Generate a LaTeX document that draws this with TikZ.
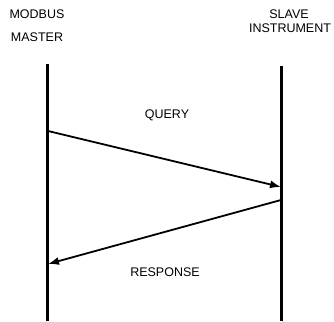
\documentclass[tikz,border=0pt]{standalone}
\usepackage{fontspec}
\setmainfont{Liberation Sans}
\usetikzlibrary{arrows.meta}
\begin{document}
\begin{tikzpicture}[x=1pt,y=-1pt,
  lbl/.style={font=\fontsize{12.5}{14}\selectfont,inner sep=0pt,align=center},
  life/.style={line width=2.2pt},
  msg/.style={line width=1.8pt,-{Latex[length=11pt,width=8pt]}}]
\useasboundingbox (0,0) rectangle (334,321);
\node[lbl] (m1) at (37,14) {MODBUS};
\node[lbl] (m2) at (37,37) {MASTER};
\node[lbl] (s1) at (289,14) {SLAVE};
\node[lbl] (s2) at (290,28) {INSTRUMENT};
\coordinate (lt) at (47.5,64);
\coordinate (lb) at (47.5,321);
\coordinate (rt) at (281.5,66);
\coordinate (rb) at (281.5,321);
\draw[life] (lt) -- (lb);
\draw[life] (rt) -- (rb);
\coordinate (q1) at (48,131);
\coordinate (q2) at (281,187);
\coordinate (r1) at (281,200);
\coordinate (r2) at (48,264);
\draw[msg] (q1) -- (q2);
\draw[msg] (r1) -- (r2);
\node[lbl] (q) at (167,115) {QUERY};
\node[lbl] (r) at (165,272) {RESPONSE};
\end{tikzpicture}
\end{document}
